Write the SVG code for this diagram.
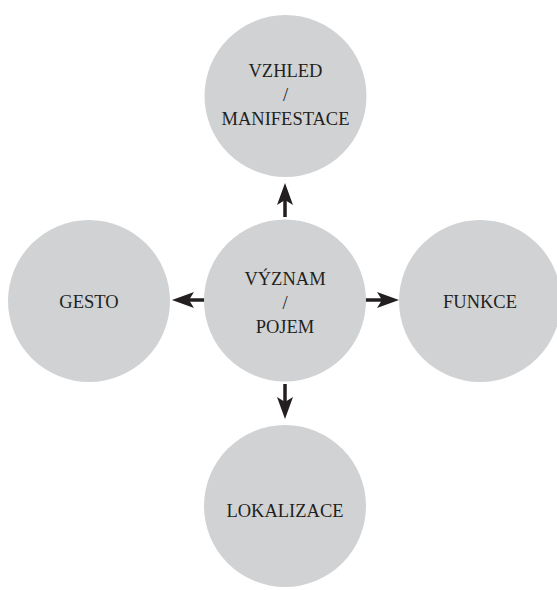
<svg xmlns="http://www.w3.org/2000/svg" width="557" height="590" viewBox="0 0 557 590">
<style>
.n{fill:#d1d2d4}
.t{font-family:'Liberation Serif',serif;font-size:18.5px;fill:#231f20;text-anchor:middle}
.c{stroke:#231f20;stroke-width:3.5;fill:none}
</style>
<defs>
<marker id="ah" markerUnits="userSpaceOnUse" markerWidth="24" markerHeight="18" viewBox="0 -9 24 18" refX="5" refY="0" orient="auto">
<path d="M0,-8 L22,0 L0,8 L5,0 Z" fill="#231f20"/>
</marker>
</defs>
<rect width="557" height="590" fill="#fff"/>
<g id="connectors">
<line class="c" x1="285" y1="217" x2="285" y2="200" marker-end="url(#ah)"/>
<line class="c" x1="205" y1="300" x2="189" y2="300" marker-end="url(#ah)"/>
<line class="c" x1="365" y1="300" x2="382" y2="300" marker-end="url(#ah)"/>
<line class="c" x1="285" y1="384" x2="285" y2="402" marker-end="url(#ah)"/>
</g>
<g font-family="Liberation Serif, serif">
<g id="vzhled">
<circle class="n" cx="285.5" cy="96" r="81"/>
<text class="t" x="285.5" y="77">VZHLED</text>
<text class="t" x="285.5" y="101">/</text>
<text class="t" x="285.5" y="125">MANIFESTACE</text>
</g>
<g id="vyznam">
<circle class="n" cx="285" cy="300.5" r="81"/>
<text class="t" x="285" y="285">VÝZNAM</text>
<text class="t" x="285" y="309">/</text>
<text class="t" x="285" y="333">POJEM</text>
</g>
<g id="gesto">
<circle class="n" cx="89" cy="301" r="81"/>
<text class="t" x="89" y="308">GESTO</text>
</g>
<g id="funkce">
<circle class="n" cx="480" cy="301" r="81"/>
<text class="t" x="480" y="308">FUNKCE</text>
</g>
<g id="lokalizace">
<circle class="n" cx="285" cy="506" r="81"/>
<text class="t" x="285" y="517">LOKALIZACE</text>
</g>
</g>
</svg>
